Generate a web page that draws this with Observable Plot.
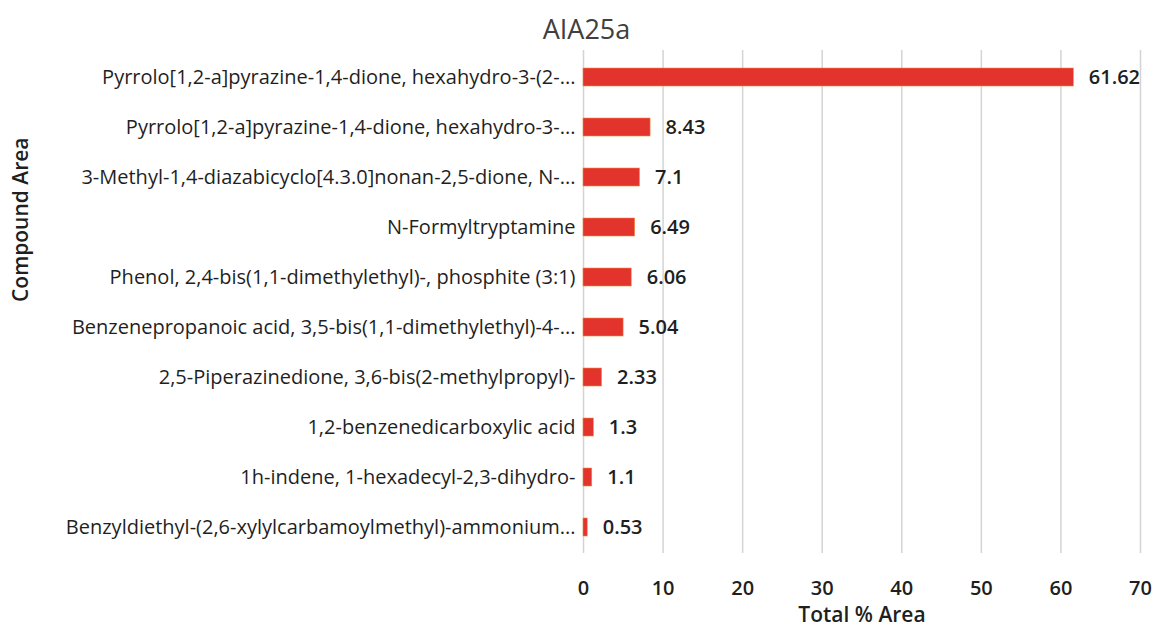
<!DOCTYPE html>
<html>
<head>
<meta charset="utf-8">
<script src="https://cdn.jsdelivr.net/npm/d3@7"></script>
<script src="https://cdn.jsdelivr.net/npm/@observablehq/plot@0.6"></script>
<style>
  html, body { margin: 0; padding: 0; background: #fff; }
  #title { height: 45px; line-height: 58px; text-align: center; font-family: "Open Sans", sans-serif; font-size: 27px; color: #404040; padding-left: 20px; overflow: visible; }
  #chart svg { display: block; }
</style>
</head>
<body>
<div id="title">AIA25a</div>
<div id="chart"></div>
<script>
const compounds = [
  "Pyrrolo[1,2-a]pyrazine-1,4-dione, hexahydro-3-(2-...",
  "Pyrrolo[1,2-a]pyrazine-1,4-dione, hexahydro-3-...",
  "3-Methyl-1,4-diazabicyclo[4.3.0]nonan-2,5-dione, N-...",
  "N-Formyltryptamine",
  "Phenol, 2,4-bis(1,1-dimethylethyl)-, phosphite (3:1)",
  "Benzenepropanoic acid, 3,5-bis(1,1-dimethylethyl)-4-...",
  "2,5-Piperazinedione, 3,6-bis(2-methylpropyl)-",
  "1,2-benzenedicarboxylic acid",
  "1h-indene, 1-hexadecyl-2,3-dihydro-",
  "Benzyldiethyl-(2,6-xylylcarbamoylmethyl)-ammonium..."
];
const areas = [61.62, 8.43, 7.1, 6.49, 6.06, 5.04, 2.33, 1.3, 1.1, 0.53];
const xTicks = [0, 10, 20, 30, 40, 50, 60, 70];
const xLabel = "Total % Area";
const yLabel = "Compound Area";

const data = compounds.map((c, i) => ({compound: c, area: areas[i]}));

const chart = Plot.plot({
  width: 1153,
  height: 582,
  marginTop: 5,
  marginBottom: 74,
  marginLeft: 583,
  marginRight: 13,
  style: {fontFamily: "Open Sans, sans-serif", fontSize: "16px", color: "#1f1f1f", background: "#fff"},
  x: {domain: [0, 70], ticks: xTicks, grid: false, label: null},
  y: {domain: compounds, paddingInner: 0.65, paddingOuter: 0.325, label: null},
  marks: [
    Plot.gridX(xTicks, {stroke: "#d4d4d4", strokeOpacity: 1, strokeWidth: 1.5}),
    Plot.axisX(xTicks, {tickSize: 0, tickPadding: 27, fontSize: 20, fontWeight: 600, label: null, fill: "#1f1f1f"}),
    Plot.axisY({tickSize: 0, tickPadding: 8, fontSize: 20, label: null, fill: "#1f1f1f"}),
    Plot.barX(data, {x: "area", y: "compound", fill: "#e2342c", stroke: "#f08a3c", strokeWidth: 0.6}),
    Plot.text(data, {x: "area", y: "compound", text: d => String(d.area), dx: 15, textAnchor: "start", fontSize: 20, fontWeight: 600, fill: "#1f1f1f"}),
    Plot.text([xLabel], {frameAnchor: "bottom", dy: 62, text: d => d, fontSize: 21, fontWeight: 600, fill: "#1f1f1f", lineAnchor: "middle"}),
    Plot.text([yLabel], {frameAnchor: "left", dx: -562, text: d => d, rotate: -90, fontSize: 21, fontWeight: 600, fill: "#1f1f1f"})
  ]
});
document.getElementById("chart").appendChild(chart);
</script>
</body>
</html>
